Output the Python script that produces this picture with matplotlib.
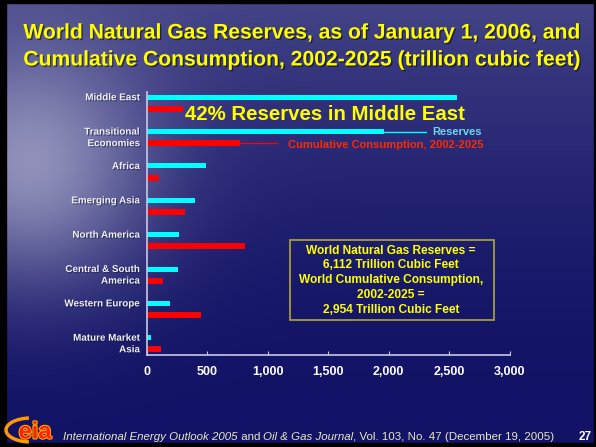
import numpy as np
import matplotlib
matplotlib.use('Agg')
import matplotlib.pyplot as plt
import matplotlib.patheffects as pe
from matplotlib.patches import Rectangle, Arc

plt.rcParams['font.family'] = ['Liberation Sans', 'DejaVu Sans']

# Reserves (Jan 1, 2006) and cumulative consumption 2002-2025, trillion cubic feet
regions = ['Middle East', 'Transitional\nEconomies', 'Africa', 'Emerging Asia',
           'North America', 'Central & South\nAmerica', 'Western Europe',
           'Mature Market\nAsia']
reserves = [2566, 1964, 484, 394, 262, 254, 188, 30]
consumption = [298, 766, 97, 311, 808, 130, 444, 113]
xticks = [0, 500, 1000, 1500, 2000, 2500, 3000]

title_lines = ['World Natural Gas Reserves, as of January 1, 2006, and',
               'Cumulative Consumption, 2002-2025 (trillion cubic feet)']
box_lines = ['World Natural Gas Reserves =', '6,112 Trillion Cubic Feet',
             'World Cumulative Consumption,', '2002-2025 =',
             '2,954 Trillion Cubic Feet']
source_parts = [('International Energy Outlook 2005', 'italic'), (' and ', 'normal'),
                ('Oil & Gas Journal', 'italic'),
                (', Vol. 103, No. 47 (December 19, 2005)', 'normal')]

W, H = 596, 447
fig = plt.figure(figsize=(W / 100, H / 100), dpi=100)

# slide background: navy with a pale glow on the left side
bg = fig.add_axes([0, 0, 1, 1], zorder=0)
yy, xx = np.mgrid[0:H, 0:W].astype(float)
glow = 0.8 * np.exp(-((xx - 30) / 120) ** 2 - ((yy - 170) / 120) ** 2)
w = np.clip(glow + 0.38 * (1 - yy / H) ** 2, 0, 1)
dark = np.array([18, 18, 102]) / 255
light = np.array([150, 150, 190]) / 255
bg.imshow(dark + w[..., None] * (light - dark), extent=(0, W, H, 0), aspect='auto')
for r in [(0, 0, W, 3), (0, 0, 6, H), (0, H - 4, W, 4), (W - 2, 0, 2, H)]:
    bg.add_patch(Rectangle(r[:2], r[2], r[3], color='black'))
bg.set_xlim(0, W)
bg.set_ylim(H, 0)
bg.axis('off')

# bar chart
ax = fig.add_axes([147 / W, 1 - 355 / H, (509.7 - 147) / W, (355 - 92) / H], zorder=1)
ax.patch.set_alpha(0)
pos = np.arange(len(regions))
ax.barh(pos - 0.167, reserves, height=0.145, color='#00ffff')
ax.barh(pos + 0.17, consumption, height=0.175, color='#ff0000')
ax.set_xlim(0, 3000)
ax.set_ylim(7.335, -0.32)
for s in ['top', 'right']:
    ax.spines[s].set_visible(False)
for s in ['left', 'bottom']:
    ax.spines[s].set_color('#c8c8e6')
    ax.spines[s].set_linewidth(1.2)
ax.set_yticks([])
ax.set_xticks(xticks)
ax.set_xticklabels([f'{v:,}' for v in xticks], fontweight='bold')
ax.tick_params(axis='x', direction='in', length=3, color='#c8c8e6',
               labelcolor='white', labelsize=9, pad=8)

lbl_shadow = [pe.withSimplePatchShadow(offset=(0.8, -0.8), shadow_rgbFace='#101040', alpha=0.5)]
for i, name in enumerate(regions):
    yl = i if '\n' in name else i - 0.167
    ax.text(-0.019, yl, name, transform=ax.get_yaxis_transform(), ha='right',
            va='center', fontsize=7.1, fontweight='bold', color='#f0f0f0',
            path_effects=lbl_shadow)

# series labels hooked to the Transitional Economies bars
ax.plot([reserves[1], 2308], [1 - 0.167] * 2, color='#00ffff', lw=1, clip_on=False)
ax.text(2357, 1 - 0.167, 'Reserves', color='#6cd8ec', fontsize=8,
        fontweight='bold', va='center', ha='left')
ax.plot([consumption[1], 1075], [1 + 0.17] * 2, color='#ff0000', lw=1)
ax.text(1166, 1.237, 'Cumulative Consumption, 2002-2025', color='#ff2a00',
        fontsize=8, fontweight='bold', va='center', ha='left')

# overlay text in pixel coordinates
ov = fig.add_axes([0, 0, 1, 1], zorder=2)
ov.patch.set_alpha(0)
ov.set_xlim(0, W)
ov.set_ylim(H, 0)
ov.axis('off')

shadow = [pe.withSimplePatchShadow(offset=(1, -1), shadow_rgbFace='black', alpha=0.5)]
for yt, line in zip([33, 60], title_lines):
    ov.text(302, yt, line, ha='center', va='center', fontsize=15.2,
            fontweight='bold', color='#ffff00', path_effects=shadow)

ov.text(185, 114, '42% Reserves in Middle East', ha='left', va='center',
        fontsize=14.7, fontweight='bold', color='#ffff00')

ov.add_patch(Rectangle((290, 240), 204, 80, fill=False, edgecolor='#a89c3c', lw=1.3))
for k, line in enumerate(box_lines):
    ov.text(391, 250.7 + 14.8 * k, line, ha='center', va='center', fontsize=8.6,
            fontweight='bold', color='#ffff00')

# source line
prev = ov.text(63, 442, source_parts[0][0], ha='left', va='bottom', fontsize=8.25,
               style=source_parts[0][1], color='#e8e8c0')
for txt, st in source_parts[1:]:
    prev = ov.annotate(txt, xy=(1, 0), xycoords=prev, ha='left', va='bottom',
                       fontsize=8.25, style=st, color='#e8e8c0')
ov.text(592, 437, '27', ha='right', va='center', fontsize=8.5,
        fontweight='bold', color='white')

# logo
ov.add_patch(Arc((31, 430), 50, 24, theta1=100, theta2=260, color='#ff9900', lw=2.5))
ov.text(35, 432, 'eia', ha='center', va='center', fontsize=17, fontweight='bold',
        color='#ff2200', path_effects=[pe.withStroke(linewidth=1.5, foreground='#ffaa00')])

fig.savefig('out.png', dpi=100)
